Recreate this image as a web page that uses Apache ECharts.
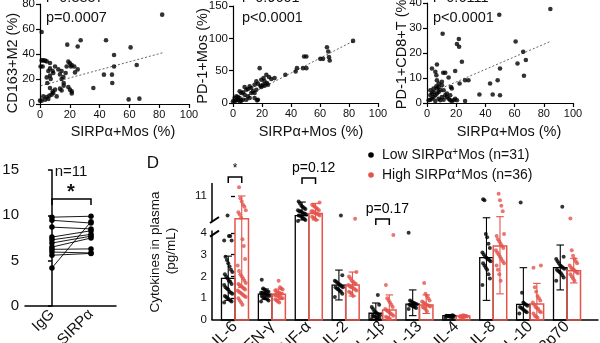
<!DOCTYPE html>
<html>
<head>
<meta charset="utf-8">
<script src="https://cdn.jsdelivr.net/npm/echarts@6/dist/echarts.min.js"></script>
<style>
  html, body { margin: 0; padding: 0; background: #fff; }
  #chart { width: 600px; height: 343px; }
</style>
</head>
<body>
<div id="chart"></div>
<script>
// ---------- top row: correlations with SIRPα+ monocytes ----------
const m2Pts = [[1.1,57.6],[82,71.5],[18.3,47.5],[27.3,51],[25.3,46],[44.3,51],[49.7,39.2],[60.8,45.3],[64.9,31.2],[49.7,30],[42.9,23.5],[48.3,23.5],[48.5,16.8],[35.8,12.8],[59.5,3.7],[66.7,4.3],
  [1.1,34.9],[2.2,34.9],[3.4,34.7],[4.5,34.1],[6.7,32.8],[0.4,30],[1.8,30],[6.7,28.5],[8.5,26.4],[5.6,26.4],[8.9,24.8],[6.7,22.7],[7.2,20],[4.5,21.3],[4.9,16.8],[10.1,30],[12.3,27.7],[14.5,26.4],[13.4,23.7],[19,33.9],[20.1,32.5],[21.3,31.2],[17.9,30],[20.8,30],[23,30],[25.3,27.7],[23.5,25.3],[17.2,24.8],[15.7,21.6],[14.5,20],[15.9,16.8],[15.9,14.7],[6.7,12.8],[10.1,11.5],[8.5,10.1],[13.4,12.3],[14.5,10.9],[19,13.6],[20.1,11.5],[21.3,10.1],[21.3,8.5],[2.2,6.1],[4.5,5.6],[6.3,6.7],[7.8,7.5],[0,2.7],[1.1,2.7],[3.4,3.5],[5.6,4],[8.9,8.8],[11.2,6.1]];
const m2Fit = [[0.5,14.6],[83,41.2]];

const pd1Pts = [[82.8,96],[64.8,86.3],[65.7,79.6],[60.2,68.3],[62.1,68.3],[66.2,70.9],[66.7,65.7],[49,71.9],[50.6,71.9],[48.3,53.9],[50.6,53.9],[44.1,53.9],[43.2,48.8],[36.1,43.7],[18.4,53.9],[23,43.7],[24.8,40.1],[26.4,37],
  [21.1,38.5],[19.5,36],[21.8,33.4],[23.4,30.8],[20.7,28.2],[18.9,26.7],[16.1,33.4],[17.2,29.8],[14.9,28.2],[11.5,25.7],[10.3,21.6],[12.6,23.1],[4.6,18],[6.9,16.4],[5.7,15.4],[8,24.7],[9.2,20.5],[8,12.8],
  [2.3,10.3],[3.4,9.2],[1.1,7.7],[4.6,7.7],[14.9,7.7],[16.6,4.1],[17.2,5.1],[10.3,10.3],[11.5,7.7],[9.2,5.1],[0,2.6],[1.1,2.6],[2.3,4.1],[3.4,5.1],[4.6,2.6],[5.7,3.6],[6.9,5.1],
  [12.6,15.4],[13.8,18],[16.1,20.5],[19.5,24.7],[21.8,26.7],[24.1,28.2],[28.7,38.5],[14.9,15.4]];
const pd1Fit = [[0.5,0.8],[83,95.8]];

const cd8Pts = [[84.5,37.6],[10.7,27.7],[21.8,25.6],[20.5,23.6],[22,22.5],[23.9,16.5],[19.3,12.8],[11.1,12.1],[12.5,12.1],[14.8,10.2],[3.4,13.8],[6.8,15.4],[5.7,12.5],[6.4,11.1],[6.8,9.1],
  [16.4,6.4],[17,5.8],[22.3,7.8],[26.1,9.1],[28.4,9.1],[60.7,24.6],[62,15.8],[65.9,20.5],[67.7,17.2],[66.4,10.9],[50,13.8],[43.2,7.8],[48.4,9.1],[35.9,3.4],[45,3.4],[50,3.1],[49.5,35.3],
  [1.1,1.1],[2.3,1.3],[3.4,1.7],[4.5,2.4],[5.7,3.1],[6.8,3.8],[8,4.4],[9.1,5.1],[2.3,3.1],[3.4,3.8],[4.5,4.4],[6.8,5.8],[8,6.4],[10.2,7.1],[11.4,5.1],[12.5,3.1],[13.6,2.4],[14.8,1.7],
  [15.9,1.1],[17,0.8],[18.2,1.1],[19.3,1.7],[20.5,1.1],[26.1,0.8],[9.1,1.1],[11.4,1.3],[5.7,0.8],[8,1.7],[10.2,2.4],[13.6,3.8],[15.9,3.1],[4.5,5.8],[6.4,6.7],[2.3,5.1],[8,7.8],[10.2,8.5]];
const cd8Fit = [[2,3.9],[84,24.5]];

const corrR = ['r=0.3857', 'r=0.9601', 'r=0.6111'];
const corrP = ['p=0.0007', 'p<0.0001', 'p<0.0001'];
const corrYTitles = ['CD163+M2 (%)', 'PD-1+Mos (%)', 'PD-1+CD8+T (%)'];
const corrXTitle = 'SIRPα+Mos (%)';

// ---------- panel C: paired IgG vs anti-SIRPα ----------
const pairedCats = ['IgG', 'SIRPα'];
const iggVals   = [9.8, 9.45, 8.7, 7.6, 7.3, 6.95, 6.5, 6.25, 5.95, 5.6, 4.2];
const sirpaVals = [9.9, 9.15, 8.5, 8.3, 7.9, 7.7, 7.5, 6.3, 5.85, 5.8, 9.3];

// ---------- panel D: plasma cytokines ----------
const cytokines = ['IL-6','IFN-γ','TNF-α','IL-2','IL-1β','IL-13','IL-4','IL-8','IL-10','IL-12p70'];
const lowMean   = [1.91, 1.19, 10.1, 1.6, 0.31, 0.73, 0.2, 2.86, 0.72, 2.4];
const lowSdTop  = [2.93, 1.42, 10.72, 2.29, 0.78, 1.38, 0.25, 10.0, 2.4, 3.44];
const lowSdBot  = [0.9, 0.95, 9.9, 0.92, 0.02, 0.2, 0.15, 0.9, 0.02, 1.38];
const highMean  = [9.95, 1.18, 10.2, 1.6, 0.46, 0.69, 0.18, 3.39, 0.73, 2.26];
const highSdTop = [11.0, 1.42, 10.66, 2.2, 1.15, 1.15, 0.24, 10.05, 1.68, 2.83];
const highSdBot = [1.5, 0.95, 9.9, 1.1, 0.02, 0.3, 0.12, 1.2, 0.02, 1.7];
const lowPts = [
  [0.8,0.85,0.9,0.95,1.0,1.05,1.1,1.2,1.25,1.3,1.4,1.45,1.5,1.6,1.65,1.75,1.8,1.9,2.0,2.1,2.2,2.3,2.45,2.6,2.75,2.9,3.65,3.65,3.85,3.85,10.1],
  [0.85,0.9,0.95,1.0,1.0,1.05,1.1,1.1,1.15,1.15,1.2,1.2,1.25,1.25,1.3,1.3,1.35,1.4,1.45,1.85],
  [9.85,9.9,9.95,10.0,10.05,10.1,10.1,10.15,10.2,10.2,10.25,10.3,10.3,10.35,10.4,10.45,10.5,10.55,10.65,10.75],
  [1.05,1.2,1.3,1.35,1.4,1.45,1.5,1.5,1.55,1.6,1.65,1.7,1.75,1.8,2.05,10.1],
  [0.05,0.08,0.1,0.12,0.15,0.18,0.2,0.22,0.25,0.3,0.35,0.4,0.5,0.6,0.7,1.15],
  [0.5,0.55,0.6,0.62,0.65,0.68,0.7,0.72,0.75,0.78,0.8,0.85,0.9,4.0],
  [0.1,0.12,0.14,0.15,0.16,0.18,0.2,0.2,0.22],
  [1.6,1.9,2.1,2.3,2.4,2.5,2.6,2.7,2.75,2.8,2.85,2.9,3.0,3.1,3.3,3.5,3.8,3.95,10.8,10.85],
  [0.3,0.35,0.4,0.45,0.5,0.55,0.6,0.65,0.7,0.75,0.8,1.25,10.7],
  [1.8,1.95,2.05,2.15,2.2,2.25,2.3,2.35,2.4,2.45,2.5,2.6,2.7,2.8,2.9,10.5]
];
const highPts = [
  [0.7,0.8,0.9,1.0,1.05,1.1,1.15,1.2,1.25,1.3,1.35,1.4,1.45,1.5,1.55,1.6,1.65,1.7,1.8,1.9,2.0,2.1,2.25,2.5,2.8,3.4,3.7,10.0,10.15,10.25,10.35,10.5,10.6,10.75,10.9,11.4],
  [0.8,0.85,0.9,0.95,1.0,1.0,1.05,1.1,1.1,1.15,1.15,1.2,1.2,1.25,1.25,1.3,1.35,1.4,1.45,1.5,1.8],
  [9.9,9.95,10.0,10.05,10.1,10.15,10.2,10.2,10.25,10.3,10.3,10.35,10.4,10.45,10.5,10.55,10.6,10.7],
  [1.1,1.2,1.25,1.3,1.35,1.4,1.45,1.5,1.5,1.55,1.6,1.65,1.7,1.75,1.8,1.9,2.0,2.2,9.95],
  [0.05,0.08,0.1,0.15,0.2,0.25,0.3,0.35,0.4,0.45,0.5,0.6,0.7,0.8,0.9,1.0,1.6,3.9],
  [0.4,0.5,0.55,0.6,0.62,0.65,0.68,0.7,0.75,0.8,0.85,0.9,1.0,1.1,1.2,1.7],
  [0.1,0.12,0.14,0.15,0.16,0.18,0.2,0.22],
  [1.8,2.1,2.3,2.5,2.6,2.7,2.8,2.9,3.0,3.1,3.2,3.3,3.4,3.5,3.6,3.7,3.85,3.95,10.3,10.55,10.8,11.1],
  [0.1,0.15,0.2,0.3,0.35,0.4,0.5,0.55,0.6,0.7,0.8,0.9,1.0,1.1,1.3,1.5,2.4,2.5],
  [1.8,1.9,2.0,2.1,2.15,2.2,2.25,2.3,2.35,2.4,2.5,2.6,2.7,2.8,2.95,3.2,9.97]
];
const legendNames = [['Low SIRPα', 'Mos (n=31)'], ['High SIRPα', 'Mos (n=36)']];
// significance brackets: category index, bracket level (pg/mL), label
const sigCats  = [0, 2, 4];
const sigLevel = [11.87, 11.82, 9.94];
const sigText  = ['*', 'p=0.12', 'p=0.17'];

// ---------- styling & broken-axis helpers ----------
const FONT = '"Liberation Sans", Arial, sans-serif';
const RED = '#e4544c';
const LOW_TOP = 4.1, UP_BASE = 9.85, GAP = 0.44;   // lower segment 0–4.1, upper segment from 9.85
const brk = v => v <= LOW_TOP ? v
  : (v < UP_BASE ? LOW_TOP + GAP * (v - LOW_TOP) / (UP_BASE - LOW_TOP) : v - UP_BASE + LOW_TOP + GAP);
const T_MAX = 6.284;
const X_MIN = -0.623, X_MAX = 9.84;
const BAR = 0.366, HALF = 0.183;
const jit = k => (((k * 37) % 13) / 12 - 0.5) * 0.22;

function axisStyle(fontSize, margin, width) {
  return {
    axisLine: { show: true, lineStyle: { color: '#000', width: width } },
    axisTick: { show: true, length: 4, lineStyle: { color: '#000', width: width } },
    axisLabel: { color: '#111', fontSize: fontSize, fontFamily: FONT, margin: margin },
    splitLine: { show: false }
  };
}

const grids = [
  { left: 40, top: 4, width: 149, height: 100 },
  { left: 233, top: 6, width: 145, height: 97 },
  { left: 427, top: 3, width: 146, height: 100 },
  { left: 25, top: 170, width: 91, height: 136 },
  { left: 212, top: 320 - T_MAX * 21.8, width: 386, height: T_MAX * 21.8 }
].map(g => Object.assign({ containLabel: false, outerBoundsMode: 'none' }, g));

const xAxes = [0, 1, 2].map(g => Object.assign({ type: 'value', gridIndex: g, min: 0, max: 100, interval: 20 }, axisStyle(11, 5, 1.2)));
const yAxes = [
  Object.assign({ type: 'value', gridIndex: 0, min: 0, max: 80, interval: 20 }, axisStyle(11.5, 5, 1.2)),
  Object.assign({ type: 'value', gridIndex: 1, min: 0, max: 150, interval: 50 }, axisStyle(11.5, 5, 1.2)),
  Object.assign({ type: 'value', gridIndex: 2, min: 0, max: 40, interval: 10 }, axisStyle(11.5, 5, 1.2))
];

// panel C axes
const cX = Object.assign({ type: 'value', gridIndex: 3, min: -0.69, max: 1.64 }, axisStyle(15, 6, 1.5));
cX.axisTick = { show: false };
cX.axisLabel = { color: '#111', fontSize: 15, fontFamily: FONT, margin: 6, rotate: 45,
  customValues: [0, 1], formatter: v => pairedCats[Math.round(v)] };
xAxes.push(cX);
yAxes.push(Object.assign({ type: 'value', gridIndex: 3, min: 0, max: 15, interval: 5 }, axisStyle(15, 6, 1.5)));

// panel D axes (y axis line drawn as two segments by a custom series)
const dX = { type: 'value', gridIndex: 4, min: X_MIN, max: X_MAX,
  axisLine: { show: true, lineStyle: { color: '#000', width: 1.5 } }, axisTick: { show: false }, splitLine: { show: false },
  axisLabel: { color: '#111', fontSize: 16, fontFamily: FONT, margin: 4, rotate: 45,
    customValues: cytokines.map((c, i) => i), formatter: v => cytokines[Math.round(v)] } };
xAxes.push(dX);
const dTicks = [0, 1, 2, 3, 4, brk(11)];
yAxes.push({ type: 'value', gridIndex: 4, min: 0, max: T_MAX,
  axisLine: { show: false }, splitLine: { show: false },
  axisTick: { show: true, length: 4, customValues: dTicks, lineStyle: { color: '#000', width: 1.3 } },
  axisLabel: { color: '#111', fontSize: 11.5, fontFamily: FONT, margin: 5, customValues: dTicks,
    formatter: v => v <= LOW_TOP + 0.01 ? String(Math.round(v)) : String(Math.round(v - LOW_TOP - GAP + UP_BASE)) } });

const series = [];

// top row scatter + fitted lines
[[m2Pts, m2Fit], [pd1Pts, pd1Fit], [cd8Pts, cd8Fit]].forEach(([pts, fit], g) => {
  series.push({ type: 'line', xAxisIndex: g, yAxisIndex: g, data: fit, symbol: 'none', silent: true, z: 1,
    lineStyle: { color: '#555', width: 0.9, type: [2, 2] } });
  series.push({ type: 'scatter', xAxisIndex: g, yAxisIndex: g, data: pts, symbolSize: 4.6, z: 2,
    itemStyle: { color: '#000' } });
});

// panel C paired lines
iggVals.forEach((v, k) => series.push({ type: 'line', xAxisIndex: 3, yAxisIndex: 3,
  data: [[0, v], [1, sirpaVals[k]]], symbol: 'circle', symbolSize: 5.5,
  itemStyle: { color: '#000' }, lineStyle: { color: '#000', width: 0.9 } }));

// panel D: bars
function barRender(params, api) {
  const i = api.value(0), mean = api.value(1), side = api.value(4);
  const color = side < 0 ? '#000' : RED;
  const x0 = side < 0 ? i - BAR : i, x1 = side < 0 ? i : i + BAR;
  const b = api.coord([x0, 0]), t = api.coord([x1, brk(mean)]);
  return { type: 'rect', shape: { x: b[0], y: t[1], width: t[0] - b[0], height: b[1] - t[1] },
    style: { fill: 'none', stroke: color, lineWidth: side < 0 ? 1.3 : 1.5 } };
}
function errRender(params, api) {
  const i = api.value(0), lo = api.value(2), hi = api.value(3), side = api.value(4);
  const color = side < 0 ? '#000' : RED;
  const cx = side < 0 ? i - HALF : i + HALF;
  const pl = api.coord([cx, brk(lo)]), ph = api.coord([cx, brk(hi)]);
  const w = api.size([BAR * 0.28, 0])[0];
  return { type: 'group', children: [
    { type: 'line', shape: { x1: pl[0], y1: pl[1], x2: ph[0], y2: ph[1] }, style: { stroke: color, lineWidth: 1.1 } },
    { type: 'line', shape: { x1: ph[0] - w, y1: ph[1], x2: ph[0] + w, y2: ph[1] }, style: { stroke: color, lineWidth: 1.1 } },
    { type: 'line', shape: { x1: pl[0] - w, y1: pl[1], x2: pl[0] + w, y2: pl[1] }, style: { stroke: color, lineWidth: 1.1 } }
  ] };
}
const lowRows = cytokines.map((c, i) => [i, lowMean[i], lowSdBot[i], lowSdTop[i], -1]);
const highRows = cytokines.map((c, i) => [i, highMean[i], highSdBot[i], highSdTop[i], 1]);
series.push({ type: 'custom', xAxisIndex: 4, yAxisIndex: 4, renderItem: barRender, data: lowRows.concat(highRows), z: 2 });

// panel D: individual values
const lowScatter = [], highScatter = [];
lowPts.forEach((arr, i) => arr.forEach((v, k) => lowScatter.push([i - HALF + jit(k), brk(v)])));
highPts.forEach((arr, i) => arr.forEach((v, k) => highScatter.push([i + HALF + jit(k + 3), brk(v)])));
series.push({ type: 'scatter', xAxisIndex: 4, yAxisIndex: 4, data: lowScatter, symbolSize: 4, itemStyle: { color: '#000' }, z: 3 });
series.push({ type: 'scatter', xAxisIndex: 4, yAxisIndex: 4, data: highScatter, symbolSize: 4, itemStyle: { color: RED }, z: 3 });
series.push({ type: 'custom', xAxisIndex: 4, yAxisIndex: 4, renderItem: errRender, data: lowRows.concat(highRows), z: 4 });

// panel D: broken y axis
series.push({ type: 'custom', xAxisIndex: 4, yAxisIndex: 4, z: 5, silent: true,
  data: [[0, LOW_TOP, 1], [LOW_TOP + GAP, T_MAX, -1]],
  renderItem: (params, api) => {
    const a = api.coord([X_MIN, api.value(0)]), b = api.coord([X_MIN, api.value(1)]);
    const e = api.value(2) > 0 ? b : a;           // end next to the break
    const dy = api.value(2) > 0 ? -3 : 1;
    return { type: 'group', children: [
      { type: 'line', shape: { x1: a[0], y1: a[1], x2: b[0], y2: b[1] }, style: { stroke: '#000', lineWidth: 1.5 } },
      { type: 'line', shape: { x1: e[0] - 2, y1: e[1] - dy + 3, x2: e[0] + 7, y2: e[1] - dy - 3 }, style: { stroke: '#000', lineWidth: 2 } }
    ] };
  } });

// panel D: significance brackets
series.push({ type: 'custom', xAxisIndex: 4, yAxisIndex: 4, z: 6, silent: true,
  data: sigCats.map((c, k) => [c, sigLevel[k]]),
  renderItem: (params, api) => {
    const i = api.value(0), lvl = brk(api.value(1));
    const txt = sigText[params.dataIndex];
    const a = api.coord([i - HALF, lvl]), b = api.coord([i + HALF, lvl]);
    const star = txt === '*';
    return { type: 'group', children: [
      { type: 'polyline', shape: { points: [[a[0], a[1] + 6], [a[0], a[1]], [b[0], b[1]], [b[0], b[1] + 6]] },
        style: { stroke: '#000', lineWidth: 1.5, fill: null } },
      { type: 'text', style: { text: txt, x: star ? (a[0] + b[0]) / 2 : a[0] - 10, y: a[1] - (star ? 8 : 10),
        textAlign: star ? 'center' : 'left', textVerticalAlign: 'middle', font: (star ? '12px ' : '14px ') + FONT, fill: '#000' } }
    ] };
  } });

// ---------- free text ----------
const txt = (text, x, y, size, extra) => Object.assign({ type: 'text', x: x, y: y,
  style: { text: text, x: 0, y: 0, font: size + 'px ' + FONT, fill: '#111', textAlign: 'center', textVerticalAlign: 'middle' } }, extra || {});
const graphics = [];
const statX = [46, 242, 433];
[0, 1, 2].forEach(g => {
  graphics.push(txt(corrR[g], statX[g], -2.5, 14.5, {}));
  graphics[graphics.length - 1].style.textAlign = 'left';
  graphics.push(txt(corrP[g], statX[g], 18.3, 14.5, {}));
  graphics[graphics.length - 1].style.textAlign = 'left';
});
[[13, 63], [203, 56], [402, 52]].forEach((p, g) => graphics.push(txt(corrYTitles[g], p[0], p[1], 14.5, { rotation: Math.PI / 2 })));
[123, 311, 509].forEach(x => graphics.push(txt(corrXTitle, x, 132, 14.5)));
graphics.push(txt('n=11', 71, 172, 15));
graphics.push(txt('*', 71, 192, 20, {}));
graphics[graphics.length - 1].style.font = 'bold 20px ' + FONT;
graphics.push({ type: 'polyline', shape: { points: [[52, 205], [52, 199], [91, 199], [91, 205]] }, style: { stroke: '#000', lineWidth: 1.5, fill: null } });
graphics.push(txt('D', 153, 163, 17));
graphics.push(txt('Cytokines in plasma', 155, 252, 13.5, { rotation: Math.PI / 2 }));
graphics.push(txt('(pg/mL)', 171, 251, 13.5, { rotation: Math.PI / 2 }));
[['#000', 155], [RED, 175]].forEach((s, k) => {
  graphics.push({ type: 'circle', shape: { cx: 371, cy: s[1], r: 2.8 }, style: { fill: s[0] } });
  graphics.push({ type: 'text', x: 382, y: s[1], style: {
    text: '{t|' + legendNames[k][0] + '}{s|+}{t|' + legendNames[k][1] + '}', x: 0, y: 0,
    textAlign: 'left', textVerticalAlign: 'middle', fill: '#111',
    rich: { t: { fontSize: 14, fontFamily: FONT, fill: '#111', lineHeight: 16 },
            s: { fontSize: 10, fontFamily: FONT, fill: '#111', verticalAlign: 'top', lineHeight: 16 } } } });
});

const chart = echarts.init(document.getElementById('chart'), null, { width: 600, height: 343 });
chart.setOption({
  animation: false,
  backgroundColor: '#fff',
  grid: grids,
  xAxis: xAxes,
  yAxis: yAxes,
  series: series,
  graphic: graphics
});
</script>
</body>
</html>
